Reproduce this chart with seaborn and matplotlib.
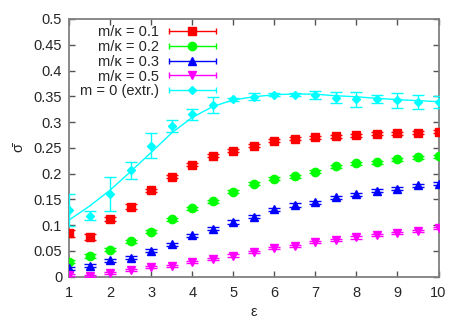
import numpy as np
import pandas as pd
import matplotlib
matplotlib.use('Agg')
import matplotlib.pyplot as plt
import seaborn as sns
from matplotlib.lines import Line2D
from matplotlib.legend_handler import HandlerBase
from matplotlib.ticker import FuncFormatter

# ---------------------------------------------------------
# data
# ---------------------------------------------------------
eps = [1.0, 1.5, 2.0, 2.5, 3.0, 3.5, 4.0, 4.5, 5.0, 5.5,
       6.0, 6.5, 7.0, 7.5, 8.0, 8.5, 9.0, 9.5, 10.0]

sig_01 = [0.084, 0.077, 0.112, 0.136, 0.168, 0.194, 0.217, 0.235, 0.244, 0.254,
          0.264, 0.268, 0.270, 0.272, 0.274, 0.277, 0.278, 0.279, 0.281]
err_01 = [0.007, 0.006, 0.004, 0.004, 0.003, 0.003, 0.003, 0.003, 0.003, 0.003,
          0.003, 0.003, 0.003, 0.003, 0.003, 0.003, 0.003, 0.003, 0.003]

sig_02 = [0.029, 0.040, 0.052, 0.069, 0.087, 0.111, 0.133, 0.146, 0.165, 0.180,
          0.190, 0.195, 0.204, 0.214, 0.220, 0.222, 0.228, 0.232, 0.234]
err_02 = [0.003] * 19

sig_03 = [0.016, 0.021, 0.032, 0.037, 0.050, 0.063, 0.080, 0.093, 0.106, 0.116,
          0.131, 0.139, 0.144, 0.154, 0.160, 0.167, 0.171, 0.177, 0.180]
err_03 = [0.003] * 19

sig_05 = [0.003, 0.002, 0.007, 0.012, 0.018, 0.021, 0.028, 0.035, 0.041, 0.048,
          0.055, 0.060, 0.068, 0.071, 0.076, 0.080, 0.084, 0.089, 0.094]
err_05 = [0.002] * 19

sig_m0 = [0.129, 0.118, 0.160, 0.206, 0.254, 0.292, 0.315, 0.333, 0.344, 0.349,
          0.353, 0.353, 0.352, 0.347, 0.344, 0.345, 0.342, 0.339, 0.339]
err_m0 = [0.031, 0.009, 0.033, 0.017, 0.024, 0.011, 0.011, 0.016, 0.003, 0.007,
          0.003, 0.003, 0.008, 0.011, 0.014, 0.008, 0.015, 0.013, 0.012]

# fit curve through the m = 0 points
fit_eps = [1.0, 1.5, 2.0, 2.5, 3.0, 3.5, 4.0, 4.5, 5.0, 5.5,
           6.0, 6.5, 7.0, 7.5, 8.0, 8.5, 9.0, 9.5, 10.0]
fit_sig = [0.110, 0.137, 0.168, 0.204, 0.241, 0.279, 0.309, 0.330, 0.343, 0.349,
           0.353, 0.3545, 0.354, 0.351, 0.349, 0.346, 0.3435, 0.3415, 0.3395]

labels = ["m/\u03ba = 0.1", "m/\u03ba = 0.2", "m/\u03ba = 0.3",
          "m/\u03ba = 0.5", "m = 0 (extr.)"]
colors = ["#ff0000", "#00ff00", "#0000ff", "#ff00ff", "#00ffff"]
markers = ["s", "o", "^", "v", "D"]
msizes = [5.5, 6, 6, 6, 4]


class HandlerHBar(HandlerBase):
    # gnuplot-like key sample: horizontal bar with end caps and marker
    def create_artists(self, legend, orig_handle, xdescent, ydescent,
                       width, height, fontsize, trans):
        y = height / 2 - ydescent
        x0, x1 = -xdescent, -xdescent + width
        c = orig_handle.get_color()
        line = Line2D([x0, x1], [y, y], color=c, lw=1)
        caps = Line2D([x0, x1], [y, y], ls="none", marker="|", ms=4,
                      mew=1, color=c)
        mk = Line2D([(x0 + x1) / 2], [y], ls="none",
                    marker=orig_handle.get_marker(),
                    ms=orig_handle.get_markersize(), color=c, mec=c)
        for a in (line, caps, mk):
            a.set_transform(trans)
        return [line, caps, mk]


def main():
    sns.set_style("ticks")
    plt.rcParams["font.family"] = ["Liberation Sans", "DejaVu Sans"]
    fs = 10.5

    fig = plt.figure(figsize=(4.67, 3.27), dpi=100)
    ax = fig.add_axes([0.148, 0.154, 0.791, 0.788])

    series = [(sig_01, err_01), (sig_02, err_02), (sig_03, err_03),
              (sig_05, err_05), (sig_m0, err_m0)]
    handles = []
    for (s, e), lab, c, m, ms in zip(series, labels, colors, markers, msizes):
        ax.errorbar(eps, s, yerr=e, fmt=m, color=c, ms=ms, mec=c,
                    elinewidth=1, capsize=4.5, capthick=1, zorder=3)
        handles.append(Line2D([], [], color=c, marker=m, ms=ms))

    fit = pd.DataFrame({"eps": fit_eps, "sig": fit_sig})
    sns.lineplot(data=fit, x="eps", y="sig", ax=ax, color="#00ffff",
                 lw=1, zorder=2)

    ax.set_xlim(1, 10)
    ax.set_ylim(0, 0.5)
    ax.set_xticks(np.arange(1, 11))
    ax.set_yticks(np.arange(0, 0.501, 0.05))
    ax.yaxis.set_major_formatter(FuncFormatter(lambda v, p: "%g" % round(v, 2)))
    ax.tick_params(direction="in", top=True, right=True, length=4,
                   width=1, color="#555555", labelsize=fs)
    ax.tick_params(axis="x", pad=7)
    ax.tick_params(axis="y", pad=5)
    for sp in ax.spines.values():
        sp.set_color("#808080")
        sp.set_linewidth(1.3)

    ax.set_xlabel("\u03b5", fontsize=fs, labelpad=3)
    ax.set_ylabel("\u03c3\u0304", fontsize=fs, labelpad=6)

    leg = ax.legend(handles=handles, labels=labels,
                    handler_map={Line2D: HandlerHBar()},
                    loc="upper right", bbox_to_anchor=(0.397, 0.975),
                    frameon=False, fontsize=fs, markerfirst=False,
                    handlelength=3.2, handletextpad=0.7,
                    labelspacing=0.05, borderpad=0, borderaxespad=0)
    # right-align the key texts like gnuplot does
    for col in leg._legend_handle_box.get_children():
        col.align = "right"

    fig.savefig("out.png", dpi=100)
    plt.close(fig)


if __name__ == "__main__":
    main()
